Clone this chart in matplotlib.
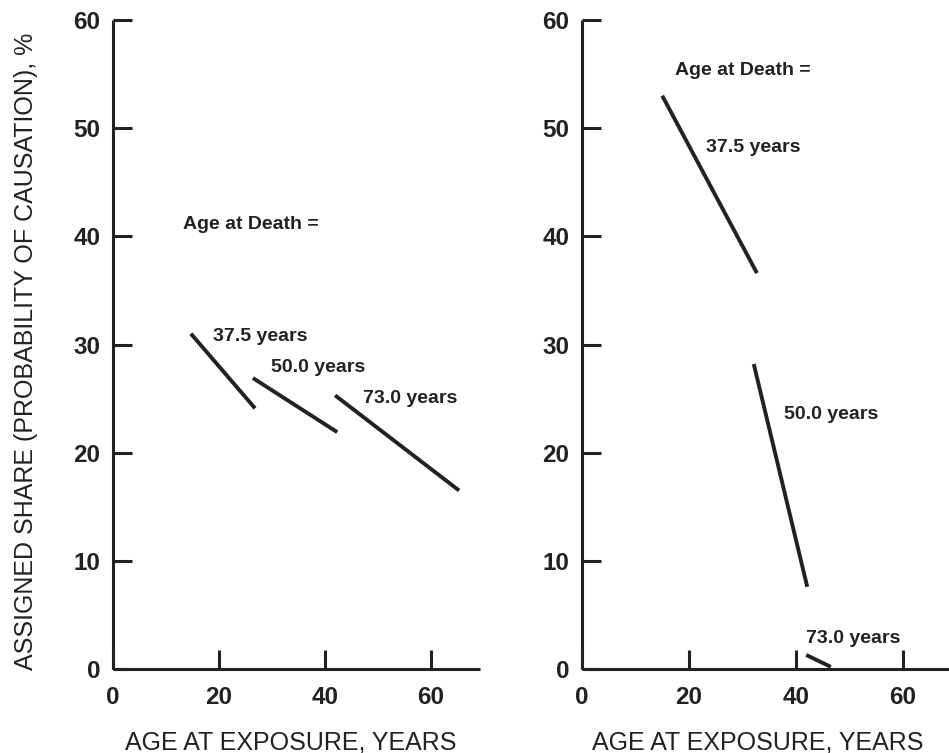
import matplotlib
matplotlib.use("Agg")
import matplotlib.pyplot as plt

plt.rcParams['font.family'] = ['Liberation Sans', 'DejaVu Sans']

# Data (age at exposure, assigned share %)
left_37_x = [14.7, 26.8]
left_37_y = [31.0, 24.1]
left_50_x = [26.4, 42.3]
left_50_y = [26.9, 21.9]
left_73_x = [41.9, 65.3]
left_73_y = [25.3, 16.5]

right_37_x = [15.0, 32.7]
right_37_y = [53.0, 36.6]
right_50_x = [32.1, 42.1]
right_50_y = [28.2, 7.6]
right_73_x = [41.9, 46.5]
right_73_y = [1.3, 0.2]

x_ticks = [0, 20, 40, 60]
y_ticks = [0, 10, 20, 30, 40, 50, 60]
labels = ["37.5 years", "50.0 years", "73.0 years"]
header = "Age at Death ="
xlabel = "AGE AT EXPOSURE, YEARS"
ylabel = "ASSIGNED SHARE (PROBABILITY OF CAUSATION), %"

INK = "#222222"
W, H = 949, 753
fig = plt.figure(figsize=(W / 100, H / 100), dpi=100)

def make_axes(left_px, px_per_unit, label_x):
    bottom_px = 669
    top_px = 20
    xmax = 69.2
    ax = fig.add_axes([left_px / W, (H - bottom_px) / H,
                       xmax * px_per_unit / W, (bottom_px - top_px) / H])
    ax.set_xlim(0, xmax)
    ax.set_ylim(0, 60)
    for s in ["top", "right"]:
        ax.spines[s].set_visible(False)
    for s in ["left", "bottom"]:
        ax.spines[s].set_linewidth(2.2)
        ax.spines[s].set_color(INK)
        ax.spines[s].set_capstyle("butt")
    ax.set_xticks(x_ticks)
    ax.set_yticks(y_ticks)
    ax.tick_params(direction="in", length=14, width=2.2, color=INK,
                   labelsize=17.5, labelcolor=INK)
    ax.tick_params(axis="y", pad=9)
    ax.tick_params(axis="x", pad=12)
    for lab in ax.get_xticklabels() + ax.get_yticklabels():
        lab.set_fontweight("bold")
    ax.set_xlabel(xlabel, fontsize=18, color=INK)
    ax.xaxis.set_label_coords(label_x, -0.095)
    ax.patch.set_alpha(0)
    return ax

ax1 = make_axes(113, 5.3, 0.485)
ax2 = make_axes(582, 5.35, 0.475)

ax1.set_ylabel(ylabel, fontsize=18, color=INK)
ax1.yaxis.set_label_coords(-0.205, 0.49)

lw = 2.8
for xs, ys in [(left_37_x, left_37_y), (left_50_x, left_50_y), (left_73_x, left_73_y)]:
    ax1.plot(xs, ys, color=INK, lw=lw, solid_capstyle="butt")
for xs, ys in [(right_37_x, right_37_y), (right_50_x, right_50_y), (right_73_x, right_73_y)]:
    ax2.plot(xs, ys, color=INK, lw=lw, solid_capstyle="butt", clip_on=False)

tkw = dict(fontsize=14, fontweight="bold", color=INK, va="center", ha="left")
ax1.text(13.2, 41.1, header, **tkw)
ax1.text(18.9, 30.7, labels[0], **tkw)
ax1.text(29.8, 27.9, labels[1], **tkw)
ax1.text(47.2, 25.0, labels[2], **tkw)

ax2.text(17.4, 55.3, header, **tkw)
ax2.text(23.2, 48.2, labels[0], **tkw)
ax2.text(37.8, 23.5, labels[1], **tkw)
ax2.text(41.9, 2.8, labels[2], **tkw)

fig.savefig("out.png", dpi=100)
